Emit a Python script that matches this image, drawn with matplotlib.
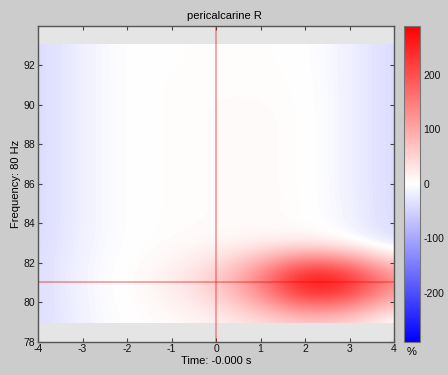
import numpy as np
import matplotlib
matplotlib.use("Agg")
import matplotlib.pyplot as plt
from matplotlib.patches import Rectangle

plt.rcParams['font.family'] = ['Liberation Sans', 'DejaVu Sans']
plt.rcParams['axes.unicode_minus'] = False

# ---- data ----
times = [-4, -3, -2, -1, 0, 1, 2, 3, 4]
freqs = [79, 80, 81, 82, 83, 84, 85, 86, 87, 88, 89, 90, 91, 92, 93]
# power change (%) ; one row per frequency, one column per time
power = [
    [-42, -13, 0, 6, 15, 35, 58, 45, -8],      # 79
    [-42, -11, 1, 13, 38, 100, 190, 165, 70],  # 80
    [-42, -10, 2, 20, 60, 150, 300, 265, 130], # 81
    [-42, -11, 1, 12, 34, 92, 178, 145, 50],   # 82
    [-43, -14, 0, 5, 9, 15, 20, 0, -38],       # 83
    [-45, -15, 0, 3, 5, 5, 3, -12, -45],       # 84
    [-45, -15, 0, 3, 5, 6, 4, -14, -45],       # 85
    [-45, -15, 0, 3, 5, 6, 3, -15, -45],       # 86
    [-45, -15, 0, 3, 5, 6, 3, -15, -45],       # 87
    [-45, -15, 0, 3, 5, 6, 3, -15, -45],       # 88
    [-45, -15, 0, 3, 5, 6, 3, -15, -45],       # 89
    [-45, -15, 0, 3, 5, 5, 3, -15, -45],       # 90
    [-45, -15, 0, 3, 4, 4, 2, -15, -45],       # 91
    [-45, -15, 0, 2, 3, 3, 1, -15, -45],       # 92
    [-45, -15, 0, 2, 3, 3, 1, -15, -45],       # 93
]
clim = 290
cur_time = 0.0
cur_freq = 81
title = "pericalcarine R"
xlabel = "Time: -0.000 s"
ylabel = "Frequency: 80 Hz"
xticks = [-4, -3, -2, -1, 0, 1, 2, 3, 4]
yticks = [78, 80, 82, 84, 86, 88, 90, 92]
cbar_ticks = [-200, -100, 0, 100, 200]
xlim = (-4, 4)
ylim = (78, 94)
data_frange = (78.93, 93.07)

# ---- figure ----
W, H = 448, 375
fig = plt.figure(figsize=(W / 100, H / 100), dpi=100, facecolor='#cccccc')

ax_l, ax_r, ax_t, ax_b = 38, 394, 25.7, 341.7
ax = fig.add_axes([ax_l / W, 1 - ax_b / H, (ax_r - ax_l) / W, (ax_b - ax_t) / H])
ax.set_facecolor('#e5e5e5')

arr = np.array(power, dtype=float)
dt = times[1] - times[0]
df = freqs[1] - freqs[0]
extent = [times[0] - dt / 2, times[-1] + dt / 2, freqs[0] - df / 2, freqs[-1] + df / 2]
im = ax.imshow(arr, origin='lower', extent=extent, aspect='auto', cmap='bwr',
               vmin=-clim, vmax=clim, interpolation='bicubic')
clip = Rectangle((xlim[0], data_frange[0]), xlim[1] - xlim[0], data_frange[1] - data_frange[0],
                 transform=ax.transData)
im.set_clip_path(clip)

ax.axvline(cur_time, color='#ff0000', alpha=0.45, lw=1.1)
ax.axhline(cur_freq, color='#ff0000', alpha=0.45, lw=1.1)

ax.set_xlim(*xlim)
ax.set_ylim(*ylim)
ax.set_xticks(xticks)
ax.set_yticks(yticks)
ax.tick_params(direction='in', length=3, width=0.8, color='#444444',
               top=True, right=True, labelsize=7.5, pad=2, labelcolor='#111111')
for s in ax.spines.values():
    s.set_color('#555555')
    s.set_linewidth(1.0)

ax.set_xlabel(xlabel, fontsize=8, labelpad=1)
ax.set_ylabel(ylabel, fontsize=8, labelpad=2)
fig.text(0.5, 1 - 16 / H, title, ha='center', va='center', fontsize=8)

# colorbar
cb_l, cb_r = 403.5, 419.5
cax = fig.add_axes([cb_l / W, 1 - ax_b / H, (cb_r - cb_l) / W, (ax_b - ax_t) / H])
cb = fig.colorbar(im, cax=cax, ticks=cbar_ticks)
cb.outline.set_edgecolor('#777777')
cb.outline.set_linewidth(0.8)
cax.tick_params(length=0, labelsize=7.5, pad=3, labelcolor='#111111')
fig.text((cb_l + cb_r) / 2 / W, 1 - 352 / H, "%", ha='center', va='center', fontsize=8)

fig.savefig("out.png", dpi=100, facecolor=fig.get_facecolor())
